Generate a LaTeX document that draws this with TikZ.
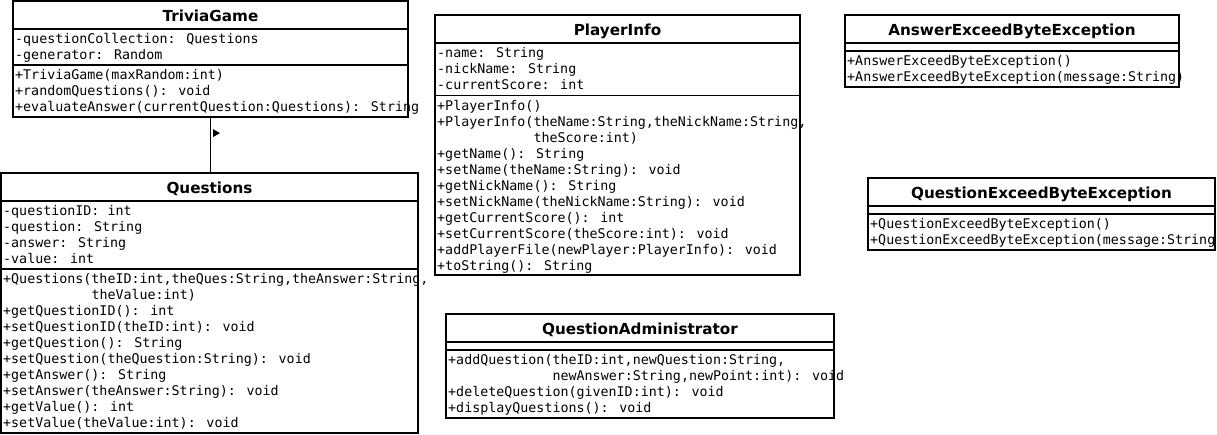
\documentclass[tikz,border=0pt]{standalone}
\usepackage{fontspec}
\newfontfamily\monof{DejaVu Sans Mono}
\newfontfamily\titlef{DejaVu Sans}
\usetikzlibrary{calc}
\begin{document}
\begin{tikzpicture}[x=1pt,y=-1pt,
  box/.style={draw=black,line width=1.6pt,fill=white,inner sep=0pt,outer sep=0pt,anchor=north west},
  sepline/.style={draw=black,line width=1.6pt},
  title/.style={anchor=base,inner sep=0pt,font=\titlef\bfseries\fontsize{15.2}{17}\selectfont},
  mem/.style={anchor=base west,inner sep=0pt,font=\monof\fontsize{13.33}{16}\selectfont},
  conn/.style={draw=black,line width=1.4pt}]
\useasboundingbox (0,0) rectangle (1217,434);
\fill[white] (0,0) rectangle (1217,434);

% ---------- TriviaGame ----------
\node[box,minimum width=395pt,minimum height=116pt] (tg) at (13,1) {};
\node[title] (tg-t) at (210.5,21) {TriviaGame};
\draw[sepline] (13,29) -- (408,29);
\draw[sepline] (13,65) -- (408,65);
\node[mem] (tg-a1) at (15,43) {-questionCollection: Questions};
\node[mem] (tg-a2) at (15,59) {-generator: Random};
\node[mem] (tg-m1) at (15,79) {+TriviaGame(maxRandom:int)};
\node[mem] (tg-m2) at (15,95) {+randomQuestions(): void};
\node[mem] (tg-m3) at (15,111) {+evaluateAnswer(currentQuestion:Questions): String};

% ---------- Questions ----------
\node[box,minimum width=417pt,minimum height=260pt] (q) at (1,173) {};
\node[title] (q-t) at (209.5,193) {Questions};
\draw[sepline] (1,201) -- (418,201);
\draw[sepline] (1,269) -- (418,269);
\node[mem] (q-a1) at (3,215) {-questionID: int};
\node[mem] (q-a2) at (3,231) {-question: String};
\node[mem] (q-a3) at (3,247) {-answer: String};
\node[mem] (q-a4) at (3,263) {-value: int};
\node[mem] (q-m1) at (3,283) {+Questions(theID:int,theQues:String,theAnswer:String,};
\node[mem] (q-m1b) at (91.3,299) {theValue:int)};
\node[mem] (q-m2) at (3,315) {+getQuestionID(): int};
\node[mem] (q-m3) at (3,331) {+setQuestionID(theID:int): void};
\node[mem] (q-m4) at (3,347) {+getQuestion(): String};
\node[mem] (q-m5) at (3,363) {+setQuestion(theQuestion:String): void};
\node[mem] (q-m6) at (3,379) {+getAnswer(): String};
\node[mem] (q-m7) at (3,395) {+setAnswer(theAnswer:String): void};
\node[mem] (q-m8) at (3,411) {+getValue(): int};
\node[mem] (q-m9) at (3,427) {+setValue(theValue:int): void};

% ---------- association ----------
\draw[conn] (tg.south) -- coordinate[pos=0.43] (mid) (tg.south |- q.north);
\fill[black] ([xshift=2.5pt,yshift=4pt]mid) -- ++(7,-4) -- ++(-7,-4) -- cycle;

% ---------- PlayerInfo ----------
\node[box,minimum width=365pt,minimum height=260pt] (pi) at (435,15) {};
\node[title] (pi-t) at (617.5,35) {PlayerInfo};
\draw[sepline] (435,43) -- (800,43);
\draw[sepline] (435,95.5) -- (800,95.5);
\node[mem] (pi-a1) at (437,57.5) {-name: String};
\node[mem] (pi-a2) at (437,73.5) {-nickName: String};
\node[mem] (pi-a3) at (437,89.5) {-currentScore: int};
\node[mem] (pi-m1) at (437,110) {+PlayerInfo()};
\node[mem] (pi-m2) at (437,126) {+PlayerInfo(theName:String,theNickName:String,};
\node[mem] (pi-m2b) at (533.4,142) {theScore:int)};
\node[mem] (pi-m3) at (437,158) {+getName(): String};
\node[mem] (pi-m4) at (437,174) {+setName(theName:String): void};
\node[mem] (pi-m5) at (437,190) {+getNickName(): String};
\node[mem] (pi-m6) at (437,206) {+setNickName(theNickName:String): void};
\node[mem] (pi-m7) at (437,222) {+getCurrentScore(): int};
\node[mem] (pi-m8) at (437,238) {+setCurrentScore(theScore:int): void};
\node[mem] (pi-m9) at (437,254) {+addPlayerFile(newPlayer:PlayerInfo): void};
\node[mem] (pi-m10) at (437,270) {+toString(): String};

% ---------- AnswerExceedByteException ----------
\node[box,minimum width=334pt,minimum height=72pt] (ae) at (845,15) {};
\node[title] (ae-t) at (1012,35) {AnswerExceedByteException};
\draw[sepline] (845,43) -- (1179,43);
\draw[sepline] (845,51) -- (1179,51);
\node[mem] (ae-m1) at (847,65.5) {+AnswerExceedByteException()};
\node[mem] (ae-m2) at (847,81.5) {+AnswerExceedByteException(message:String)};

% ---------- QuestionExceedByteException ----------
\node[box,minimum width=347pt,minimum height=72pt] (qe) at (868,178) {};
\node[title] (qe-t) at (1041.5,198) {QuestionExceedByteException};
\draw[sepline] (868,206) -- (1215,206);
\draw[sepline] (868,214) -- (1215,214);
\node[mem] (qe-m1) at (870,228) {+QuestionExceedByteException()};
\node[mem] (qe-m2) at (870,244) {+QuestionExceedByteException(message:String};

% ---------- QuestionAdministrator ----------
\node[box,minimum width=388pt,minimum height=104pt] (qa) at (446,314) {};
\node[title] (qa-t) at (640,334) {QuestionAdministrator};
\draw[sepline] (446,342) -- (834,342);
\draw[sepline] (446,350) -- (834,350);
\node[mem] (qa-m1) at (448,364) {+addQuestion(theID:int,newQuestion:String,};
\node[mem] (qa-m1b) at (552.4,380) {newAnswer:String,newPoint:int): void};
\node[mem] (qa-m2) at (448,396) {+deleteQuestion(givenID:int): void};
\node[mem] (qa-m3) at (448,412) {+displayQuestions(): void};
\end{tikzpicture}
\end{document}
